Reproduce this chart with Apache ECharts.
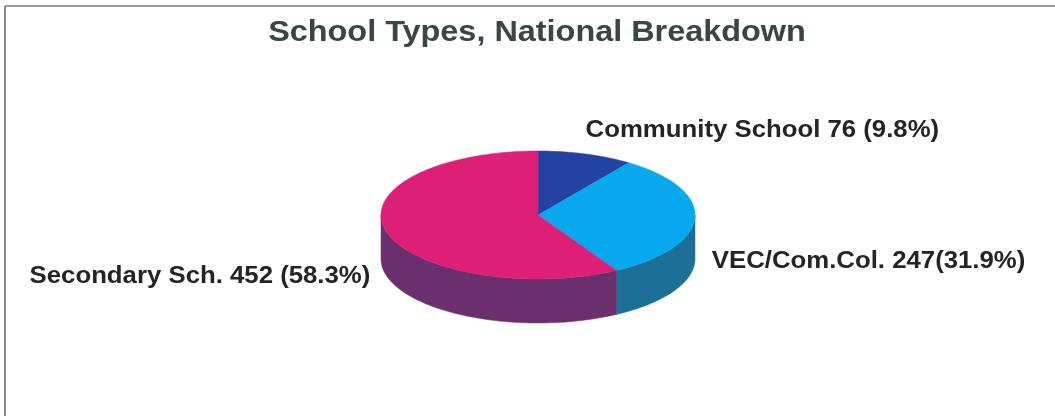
<!DOCTYPE html>
<html>
<head>
<meta charset="utf-8">
<script src="https://cdn.jsdelivr.net/npm/echarts@6/dist/echarts.min.js"></script>
<style>
  html, body { margin: 0; padding: 0; background: #fff; }
  #chart { width: 1055px; height: 416px; }
</style>
</head>
<body>
<div id="chart"></div>
<script>
// School counts by type (national totals)
var categories = ['Community School', 'VEC/Com.Col.', 'Secondary Sch.'];
var schoolCounts = [76, 247, 452];
var labelSeparators = [' ', '', ' '];

var topColors  = ['#2442a2', '#08a8ef', '#de1f78'];
var sideColors = ['#1a2f78', '#1c6f96', '#6c2f6e'];

var total = schoolCounts.reduce(function (a, b) { return a + b; }, 0);

// slice angles, measured clockwise from 12 o'clock
var startAngles = [];
var endAngles = [];
(function () {
  var acc = 0;
  schoolCounts.forEach(function (v) {
    startAngles.push(acc / total * Math.PI * 2);
    acc += v;
    endAngles.push(acc / total * Math.PI * 2);
  });
})();

// tilted disc geometry
var CX = 538, CY = 215, RX = 157, RY = 64, DEPTH = 44;
var FONT = 'Liberation Sans, Arial, sans-serif';

function ellipsePt(t, dy) {
  return [CX + RX * Math.sin(t), CY - RY * Math.cos(t) + (dy || 0)];
}

function arcPoints(t0, t1, dy) {
  var pts = [];
  var n = Math.max(2, Math.ceil(Math.abs(t1 - t0) / 0.02));
  for (var i = 0; i <= n; i++) {
    pts.push(ellipsePt(t0 + (t1 - t0) * i / n, dy));
  }
  return pts;
}

// label placement per slice: anchor offset from the rim point at mid-angle
var labelLayout = [
  { dx: 0,   dy: -23, align: 'left' },
  { dx: 17,  dy: 44,  align: 'left' },
  { dx: -16, dy: 45,  align: 'right' }
];

function labelText(i) {
  var pct = (schoolCounts[i] / total * 100).toFixed(1);
  return categories[i] + ' ' + schoolCounts[i] + labelSeparators[i] + '(' + pct + '%)';
}

var chart = echarts.init(document.getElementById('chart'));

chart.setOption({
  backgroundColor: '#ffffff',
  animation: false,
  graphic: [
    { type: 'line', shape: { x1: 5, y1: 6, x2: 1055, y2: 6 }, style: { stroke: '#777', lineWidth: 1.5 } },
    { type: 'line', shape: { x1: 5, y1: 6, x2: 5, y2: 416 }, style: { stroke: '#666', lineWidth: 1.5 } },
    {
      type: 'text',
      x: 537, y: 33,
      scaleX: 1.08,
      style: {
        x: 0, y: 0,
        text: 'School Types, National Breakdown',
        align: 'center',
        verticalAlign: 'middle',
        fontFamily: FONT,
        fontSize: 30,
        fontWeight: 'bold',
        fill: '#3a4646'
      }
    }
  ],
  series: [{
    type: 'custom',
    coordinateSystem: 'none',
    data: schoolCounts.map(function (v, i) { return [i, v]; }),
    renderItem: function (params, api) {
      var i = params.dataIndex;
      var t0 = startAngles[i], t1 = endAngles[i];
      var children = [];

      // visible rim: the front half of the disc (90..270 degrees)
      var a = Math.max(t0, Math.PI / 2), b = Math.min(t1, Math.PI * 1.5);
      if (b > a) {
        var upper = arcPoints(a, b, 0);
        var lower = arcPoints(b, a, DEPTH);
        children.push({
          type: 'polygon',
          shape: { points: upper.concat(lower) },
          style: { fill: sideColors[i], stroke: sideColors[i], lineWidth: 0.5 }
        });
      }

      // top face
      var pts = [[CX, CY]].concat(arcPoints(t0, t1, 0));
      children.push({
        type: 'polygon',
        shape: { points: pts },
        style: { fill: topColors[i], stroke: topColors[i], lineWidth: 0.5 }
      });

      // label
      var mid = (t0 + t1) / 2;
      var p = ellipsePt(mid, 0);
      var L = labelLayout[i];
      children.push({
        type: 'text',
        x: p[0] + L.dx,
        y: p[1] + L.dy,
        scaleX: 1.12,
        style: {
          x: 0, y: 0,
          text: labelText(i),
          align: L.align,
          verticalAlign: 'middle',
          fontFamily: FONT,
          fontSize: 23,
          fontWeight: 'bold',
          fill: '#242424'
        }
      });

      return { type: 'group', children: children };
    }
  }]
});
</script>
</body>
</html>
